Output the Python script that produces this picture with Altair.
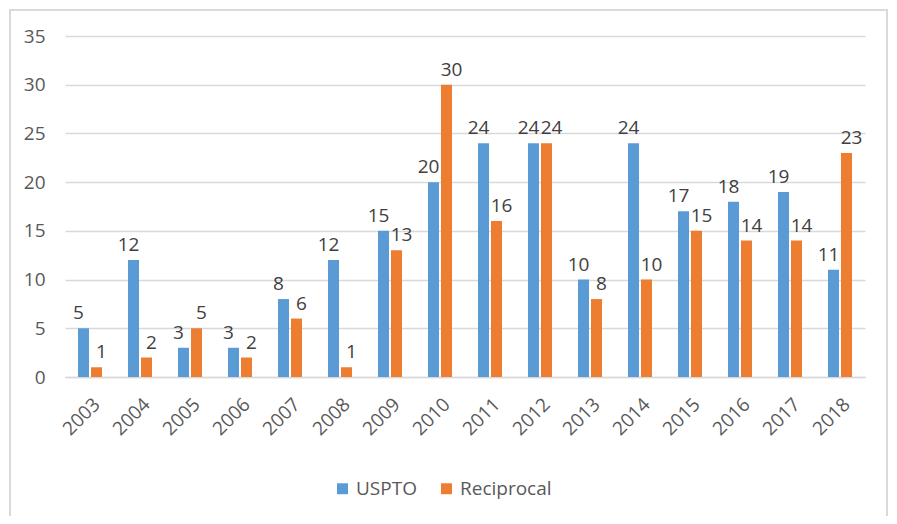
import altair as alt
import pandas as pd

years = [str(y) for y in range(2003, 2019)]
uspto = [5, 12, 3, 3, 8, 12, 15, 20, 24, 24, 10, 24, 17, 18, 19, 11]
reciprocal = [1, 2, 5, 2, 6, 1, 13, 30, 16, 24, 8, 10, 15, 14, 14, 23]
series = ["USPTO", "Reciprocal"]
colors = ["#5B9BD5", "#ED7D31"]

rows = []
for i, y in enumerate(years):
    rows.append({"year": y, "series": "USPTO", "value": uspto[i]})
    rows.append({"year": y, "series": "Reciprocal", "value": reciprocal[i]})
df = pd.DataFrame(rows)

FONT = "Open Sans"
TXT = "#595959"
FS = 19

x = alt.X("year:N", sort=years, title=None,
          scale=alt.Scale(paddingInner=0.52, paddingOuter=0.26),
          axis=alt.Axis(labelAngle=-45, labelFontSize=FS, labelColor=TXT, labelFont=FONT,
                        domainColor="#d9d9d9", domainWidth=1.5, ticks=False, labelPadding=24,
                        labelOffset=7, labelAlign="right", labelBaseline="middle"))
y = alt.Y("value:Q", title=None,
          scale=alt.Scale(domain=[0, 35]),
          axis=alt.Axis(values=list(range(0, 36, 5)), labelFontSize=FS, labelColor=TXT, labelFont=FONT,
                        domain=False, ticks=False, labelPadding=20, gridColor="#d9d9d9", gridWidth=1.5))
xoff = alt.XOffset("series:N", sort=series, scale=alt.Scale(paddingInner=0.15))
color = alt.Color("series:N", sort=series, scale=alt.Scale(domain=series, range=colors),
                  legend=alt.Legend(title=None, orient="none", direction="horizontal",
                                    legendX=268, legendY=443, symbolType="square", symbolSize=120,
                                    labelFontSize=FS, labelColor=TXT, labelFont=FONT,
                                    columnPadding=20, symbolStrokeWidth=0))

base = alt.Chart(df).encode(x=x, xOffset=xoff)
bars = base.mark_bar().encode(y=y, color=color)
lab_u = base.transform_filter(alt.datum.series == "USPTO").mark_text(
    baseline="bottom", dy=-5, dx=-5, fontSize=FS, font=FONT, color="#404040").encode(
    y=alt.Y("value:Q"), text=alt.Text("value:Q"))
lab_r = base.transform_filter(alt.datum.series == "Reciprocal").mark_text(
    baseline="bottom", dy=-5, dx=5, fontSize=FS, font=FONT, color="#404040").encode(
    y=alt.Y("value:Q"), text=alt.Text("value:Q"))

border = alt.Chart(pd.DataFrame({"a": [0]})).mark_rect(
    fill=None, stroke="#d9d9d9", strokeWidth=2).encode(
    x=alt.value(-55), x2=alt.value(822), y=alt.value(-26), y2=alt.value(504))

chart = alt.layer(border, bars, lab_u, lab_r).properties(
    width=800, height=341,
    padding={"left": 57, "top": 28, "right": 24, "bottom": 139},
    autosize=alt.AutoSizeParams(type="none"),
).configure_view(stroke=None)

chart.save("out.html", embed_options={"renderer": "svg", "actions": False})
